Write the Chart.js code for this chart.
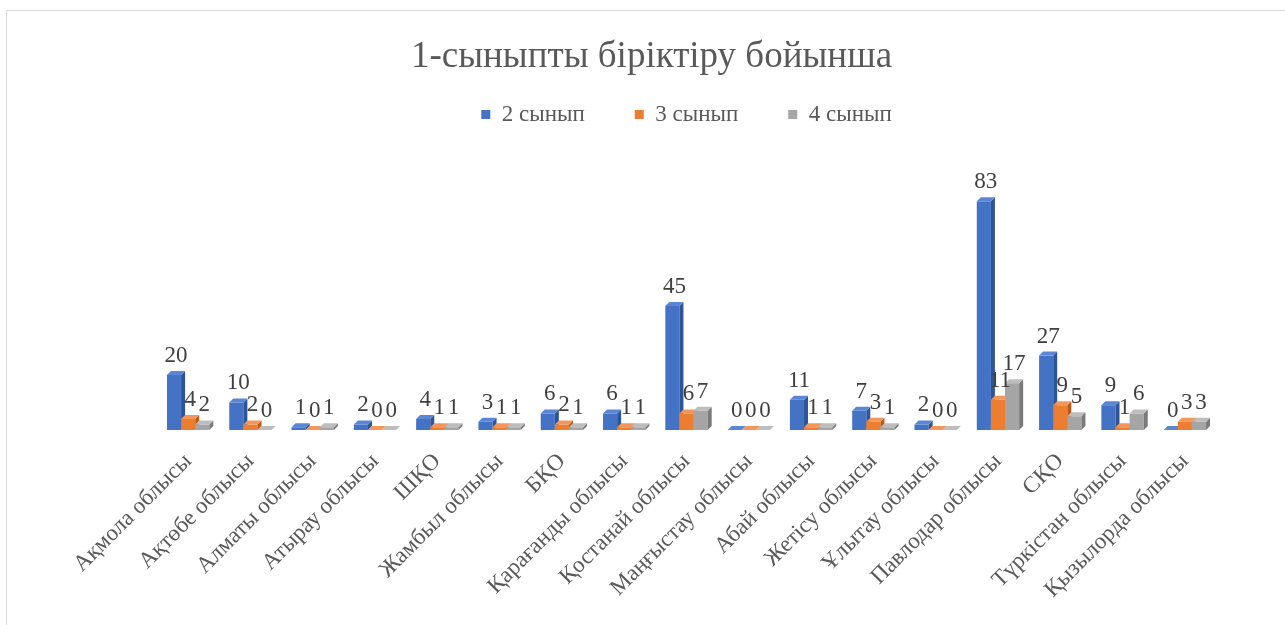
<!DOCTYPE html>
<html>
<head>
<meta charset="utf-8">
<script src="https://cdn.jsdelivr.net/npm/chart.js@4.4.1/dist/chart.umd.min.js"></script>
<style>
  html, body { margin: 0; padding: 0; background: #fff; }
  #box { position: absolute; left: 6px; top: 10px; width: 1300px; height: 640px; border: 1px solid #d9d9d9; }
  #wrap { position: absolute; left: 6px; top: 11px; width: 1279px; height: 614px; }
</style>
</head>
<body>
<div id="box"></div>
<div id="wrap"><canvas id="chart"></canvas></div>
<script>
const chartTitle = "1-сыныпты біріктіру бойынша";
const regions = ["Ақмола облысы","Ақтөбе облысы","Алматы облысы","Атырау облысы","ШҚО","Жамбыл облысы","БҚО","Қарағанды облысы","Қостанай облысы","Маңғыстау облысы","Абай облысы","Жетісу облысы","Ұлытау облысы","Павлодар облысы","СҚО","Түркістан облысы","Қызылорда облысы"];
const grade2 = [20,10,1,2,4,3,6,6,45,0,11,7,2,83,27,9,0];
const grade3 = [4,2,0,0,1,1,2,1,6,0,1,3,0,11,9,1,3];
const grade4 = [2,0,1,0,1,1,1,1,7,0,1,1,0,17,5,6,3];
const seriesNames = ["2 сынып","3 сынып","4 сынып"];
const fronts = ["#4472C4","#ED7D31","#A5A5A5"];
const tops = ["#5B86D6","#F4955A","#BDBDBD"];
const sides = ["#2F5597","#B65A1C","#7A7A7A"];

const serif = "'Liberation Serif', 'DejaVu Serif', serif";
const depth = 4;

// draw the bars as little 3D boxes, dataset 0 first so later ones overlap
const bars3d = {
  id: 'bars3d',
  beforeDatasetsDraw(chart){
    const ctx = chart.ctx;
    const metas = chart.data.datasets.map((d,i)=>chart.getDatasetMeta(i));
    ctx.save();
    for(let j=0;j<regions.length;j++){
      metas.forEach((meta,i)=>{
        const b = meta.data[j];
        const l = b.x - b.width/2, r = b.x + b.width/2;
        const y = b.y, base = b.base;
        ctx.fillStyle = fronts[i];
        ctx.fillRect(l, y, r-l, base-y);
        ctx.fillStyle = sides[i];
        ctx.beginPath();
        ctx.moveTo(r, y); ctx.lineTo(r+depth, y-depth); ctx.lineTo(r+depth, base-depth); ctx.lineTo(r, base);
        ctx.closePath(); ctx.fill();
        ctx.fillStyle = tops[i];
        ctx.beginPath();
        ctx.moveTo(l, y); ctx.lineTo(l+depth, y-depth); ctx.lineTo(r+depth, y-depth); ctx.lineTo(r, y);
        ctx.closePath(); ctx.fill();
      });
    }
    ctx.restore();
    return false;
  },
  afterDraw(chart){
    const ctx = chart.ctx;
    ctx.save();
    // title, centred on the whole frame rather than the padded area
    ctx.font = "37px " + serif;
    ctx.fillStyle = "#595959";
    ctx.textAlign = "center";
    ctx.textBaseline = "middle";
    ctx.fillText(chartTitle, chart.width/2 + 6, 46);
    // value labels
    ctx.font = "23px " + serif;
    ctx.fillStyle = "#404040";
    ctx.textBaseline = "alphabetic";
    chart.data.datasets.forEach((ds,i)=>{
      chart.getDatasetMeta(i).data.forEach((b,j)=>{
        ctx.fillText(String(ds.data[j]), b.x + depth/2, b.y - 13);
      });
    });
    ctx.restore();
  }
};

new Chart(document.getElementById('chart'), {
  type: 'bar',
  data: {
    labels: regions,
    datasets: [grade2, grade3, grade4].map((d,i)=>({
      label: seriesNames[i], data: d, backgroundColor: fronts[i], borderWidth: 0
    }))
  },
  options: {
    responsive: true,
    maintainAspectRatio: false,
    animation: false,
    layout: { padding: { left: 151, right: 69, top: 42, bottom: 10 } },
    datasets: { bar: { categoryPercentage: 0.68, barPercentage: 1 } },
    plugins: {
      title: { display: false },
      legend: {
        display: true, position: 'top',
        labels: { color: "#595959", boxWidth: 9, boxHeight: 9, padding: 50,
          font: { family: serif, size: 23 } }
      },
      tooltip: { enabled: false }
    },
    scales: {
      x: {
        grid: { display: false, drawTicks: false },
        border: { display: false },
        ticks: { color: "#595959", minRotation: 45, maxRotation: 45, padding: 18,
          font: { family: serif, size: 23 } },
        afterFit(scale){ scale.height = 185; }
      },
      y: { display: false, min: 0, max: 106.7 }
    }
  },
  plugins: [bars3d]
});
</script>
</body>
</html>
